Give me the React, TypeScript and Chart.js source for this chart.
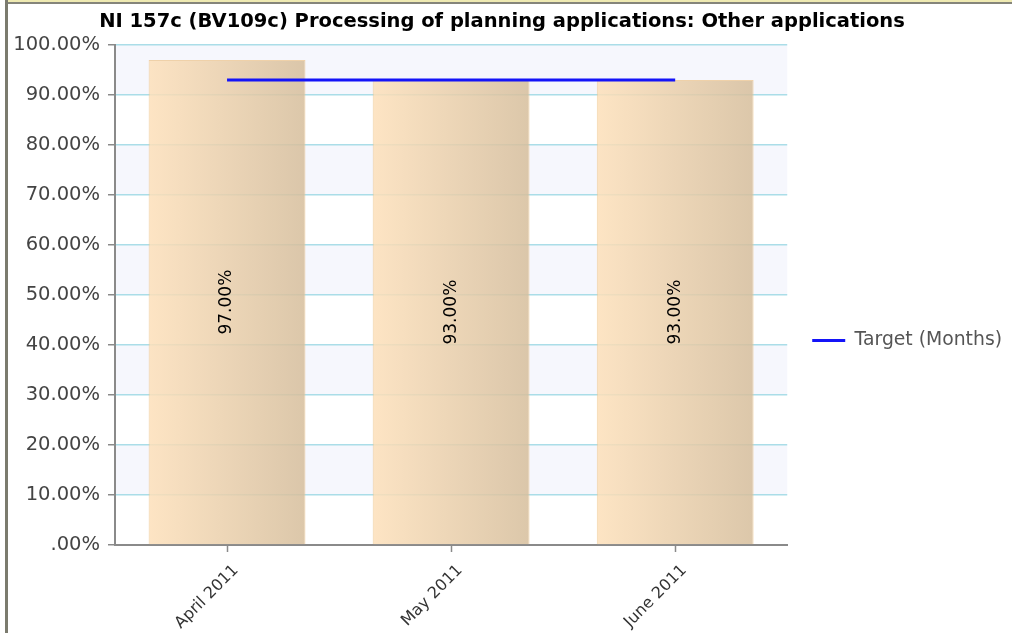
import React, { useEffect, useRef } from "react";
import { Chart, registerables } from "chart.js";

Chart.register(...registerables);

const chartTitle =
  "NI 157c (BV109c) Processing of planning applications: Other applications";
const categories = ["April 2011", "May 2011", "June 2011"];
const actualValues = [97, 93, 93];
const targetValues = [93, 93, 93];
const targetLabel = "Target (Months)";
const yMin = 0;
const yMax = 100;
const yStep = 10;

const fmtPct = (v: number) => (v === 0 ? ".00%" : v.toFixed(2) + "%");

const FONT = '"DejaVu Sans", Verdana, sans-serif';

const bandsPlugin = {
  id: "bands",
  beforeDraw(chart: any) {
    const { ctx, chartArea, scales } = chart;
    const y = scales.y;
    if (!y || !chartArea) return;
    const ticks = y.ticks.map((t: any) => t.value).sort((a: number, b: number) => a - b);
    ctx.save();
    ctx.fillStyle = "#f6f7fd";
    for (let i = 0; i < ticks.length - 1; i++) {
      if (i % 2 === 1) {
        const top = y.getPixelForValue(ticks[i + 1]);
        const bot = y.getPixelForValue(ticks[i]);
        ctx.fillRect(chartArea.left, top, chartArea.right - chartArea.left, bot - top);
      }
    }
    ctx.restore();
  },
};

const barLabelPlugin = {
  id: "barLabels",
  afterDatasetsDraw(chart: any) {
    const meta = chart.getDatasetMeta(0);
    const ctx = chart.ctx;
    ctx.save();
    ctx.font = `17px ${FONT}`;
    ctx.fillStyle = "#000";
    ctx.textAlign = "center";
    ctx.textBaseline = "middle";
    meta.data.forEach((el: any, i: number) => {
      const p = el.getProps(["x", "y", "base"], true);
      ctx.save();
      ctx.translate(p.x, (p.y + p.base) / 2);
      ctx.rotate(-Math.PI / 2);
      ctx.fillText(fmtPct(actualValues[i]), 0, 0);
      ctx.restore();
    });
    ctx.restore();
  },
};

const BAR_PCT = 0.7;

export default function App() {
  const ref = useRef<HTMLCanvasElement | null>(null);

  useEffect(() => {
    if (!ref.current) return;
    const chart = new Chart(ref.current, {
      type: "bar",
      data: {
        labels: categories,
        datasets: [
          {
            type: "bar",
            label: "Actual",
            data: actualValues,
            order: 2,
            barPercentage: BAR_PCT,
            categoryPercentage: 1,
            borderWidth: 1,
            borderColor: "rgba(236,196,140,0.75)",
            backgroundColor: (c: any) => {
              const chart = c.chart;
              const xs = chart.scales && chart.scales.x;
              if (!xs || c.dataIndex == null || !xs.width) return "rgba(240,212,176,0.86)";
              const cx = xs.getPixelForValue(c.dataIndex);
              const w = (xs.width / categories.length) * BAR_PCT;
              const g = chart.ctx.createLinearGradient(cx - w / 2, 0, cx + w / 2, 0);
              g.addColorStop(0, "rgba(253,224,186,0.86)");
              g.addColorStop(1, "rgba(214,190,156,0.86)");
              return g;
            },
          } as any,
          {
            type: "line",
            label: targetLabel,
            data: targetValues,
            order: 1,
            borderColor: "#1414f8",
            backgroundColor: "#1414f8",
            borderWidth: 3,
            pointRadius: 0,
            pointHoverRadius: 0,
            pointStyle: "line",
            fill: false,
          } as any,
        ],
      },
      options: {
        animation: false,
        responsive: false,
        maintainAspectRatio: false,
        layout: { padding: { left: -8, right: 0, top: 0, bottom: 0 } },
        plugins: {
          title: {
            display: true,
            text: chartTitle,
            color: "#000",
            font: { family: FONT, size: 19.5, weight: "bold" },
            padding: { top: 10, bottom: 11.6 },
          },
          legend: {
            display: true,
            position: "right",
            title: {
              display: true,
              text: "",
              font: { family: FONT, size: 1 },
              padding: { top: 23.5, bottom: 23.5 },
            },
            labels: {
              usePointStyle: true,
              pointStyle: "line",
              pointStyleWidth: 33,
              color: "#555",
              font: { family: FONT, size: 18.8 },
              padding: 25,
              filter: (item: any) => item.datasetIndex === 1,
            },
          },
          tooltip: { enabled: false },
        },
        scales: {
          x: {
            afterFit: (s: any) => {
              s.height = 88;
            },
            grid: {
              offset: false,
              drawOnChartArea: false,
              drawTicks: true,
              tickLength: 7,
              tickColor: "#8a8a8a",
              tickWidth: 1.5,
            },
            border: { color: "#8a8a8a", width: 2 },
            ticks: {
              minRotation: 45,
              maxRotation: 45,
              color: "#333",
              font: { family: FONT, size: 16 },
              padding: 9,
              labelOffset: 9,
            },
          },
          y: {
            min: yMin,
            max: yMax,
            afterFit: (s: any) => {
              s.width = 123;
            },
            grid: {
              color: "#aadde8",
              lineWidth: 1.5,
              tickColor: "#8a8a8a",
              tickLength: 7,
              tickWidth: 1.5,
            },
            border: { color: "#8a8a8a", width: 2 },
            ticks: {
              stepSize: yStep,
              color: "#444",
              font: { family: FONT, size: 19.5 },
              padding: 8,
              callback: (v: any) => fmtPct(Number(v)),
            },
          },
        },
      },
      plugins: [bandsPlugin, barLabelPlugin],
    });
    return () => chart.destroy();
  }, []);

  return (
    <div style={{ position: "fixed", left: 0, top: 0, width: 1012, height: 633, background: "#fff" }}>
      <div style={{ position: "absolute", left: 5, top: 0, width: 3, height: 633, background: "#7b7b6e" }} />
      <div style={{ position: "absolute", left: 8, top: 0, width: 1004, height: 2, background: "#efeab2" }} />
      <div style={{ position: "absolute", left: 8, top: 2, width: 1004, height: 1.5, background: "#85857a" }} />
      <canvas
        ref={ref}
        width={1012}
        height={633}
        style={{ position: "absolute", left: 0, top: 0, width: 1012, height: 633 }}
      />
    </div>
  );
}
